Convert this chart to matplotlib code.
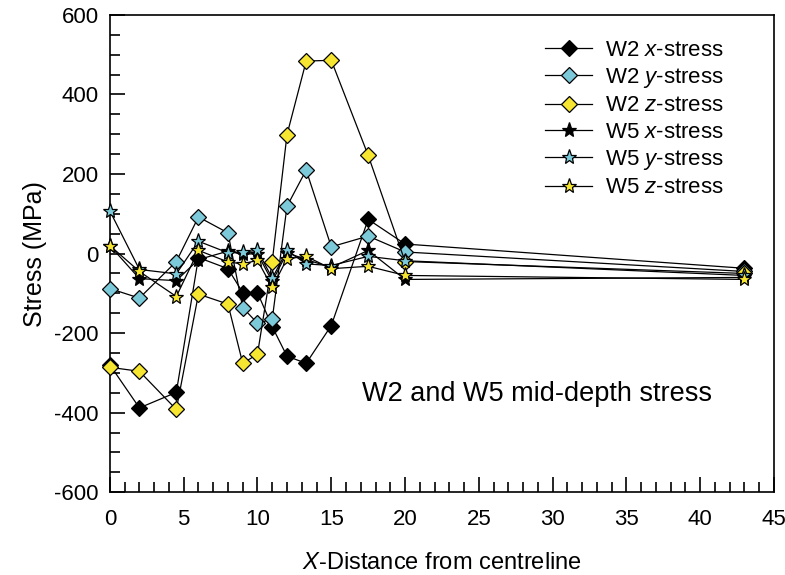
# W2 and W5 mid-depth stress chart

import matplotlib
matplotlib.use("Agg")
import matplotlib.pyplot as plt
from matplotlib.ticker import MultipleLocator

plt.rcParams['font.family'] = ['Liberation Sans', 'DejaVu Sans']
plt.rcParams['mathtext.fontset'] = 'custom'
plt.rcParams['mathtext.rm'] = 'Liberation Sans'
plt.rcParams['mathtext.it'] = 'Liberation Sans:italic'
plt.rcParams['axes.unicode_minus'] = False

# X positions (distance from centreline)
distance = [0, 2, 4.5, 6, 8, 9, 10, 11, 12, 13.3, 15, 17.5, 20, 43]

# Stress values (MPa)
w2_x = [-280, -388, -349, -10, -38, -98, -98, -184, -258, -276, -181, 86, 24, -37]
w2_y = [-88, -112, -20, 92, 52, -136, -175, -165, 119, 210, 17, 44, 4, -45]
w2_z = [-286, -296, -392, -102, -127, -276, -253, -20, 299, 484, 486, 247, -20, -50]
w5_x = [20, -63, -68, -15, 6, -2, 0, -70, 2, -15, -35, 8, -65, -60]
w5_y = [107, -40, -51, 31, 2, 4, 8, -62, 8, -26, -30, -7, -18, -55]
w5_z = [20, -45, -108, 8, -21, -26, -17, -85, -13, -7, -38, -32, -55, -65]

black = 'black'
cyan = '#7ccad9'
yellow = '#f7e631'

series = [
    (w2_x, 'D', black, 'W2 $\\it{x}$-stress'),
    (w2_y, 'D', cyan, 'W2 $\\it{y}$-stress'),
    (w2_z, 'D', yellow, 'W2 $\\it{z}$-stress'),
    (w5_x, '*', black, 'W5 $\\it{x}$-stress'),
    (w5_y, '*', cyan, 'W5 $\\it{y}$-stress'),
    (w5_z, '*', yellow, 'W5 $\\it{z}$-stress'),
]

fig = plt.figure(figsize=(7.85, 5.75), dpi=100)
ax = fig.add_axes([0.140, 0.144, 0.846, 0.830])

for values, marker, color, label in series:
    size = 8.5 if marker == 'D' else 11
    ax.plot(distance, values, color='black', linewidth=0.9,
            marker=marker, markersize=size, markerfacecolor=color,
            markeredgecolor='black', markeredgewidth=0.9, label=label,
            clip_on=False, zorder=3)

ax.set_xlim(0, 45)
ax.set_ylim(-600, 600)
ax.xaxis.set_major_locator(MultipleLocator(5))
ax.xaxis.set_minor_locator(MultipleLocator(1))
ax.yaxis.set_major_locator(MultipleLocator(200))
ax.yaxis.set_minor_locator(MultipleLocator(50))
ax.tick_params(which='both', direction='in', labelsize=16, width=1.2)
ax.tick_params(which='major', length=11)
ax.tick_params(which='minor', length=7.5)
ax.tick_params(axis='x', which='major', pad=12)
ax.tick_params(axis='y', which='major', pad=8)
for s in ax.spines.values():
    s.set_linewidth(1.2)

ax.set_xlabel('$\\it{X}$-Distance from centreline', fontsize=17, labelpad=16)
ax.set_ylabel('Stress (MPa)', fontsize=18, labelpad=5)

ax.text(0.38, 0.205, 'W2 and W5 mid-depth stress', transform=ax.transAxes,
        fontsize=19.5, va='center')

ax.legend(loc='upper right', bbox_to_anchor=(0.955, 0.99), frameon=False,
          fontsize=16, numpoints=1, handlelength=2.1, labelspacing=0.24,
          handletextpad=0.6)

plt.savefig('out.png')
